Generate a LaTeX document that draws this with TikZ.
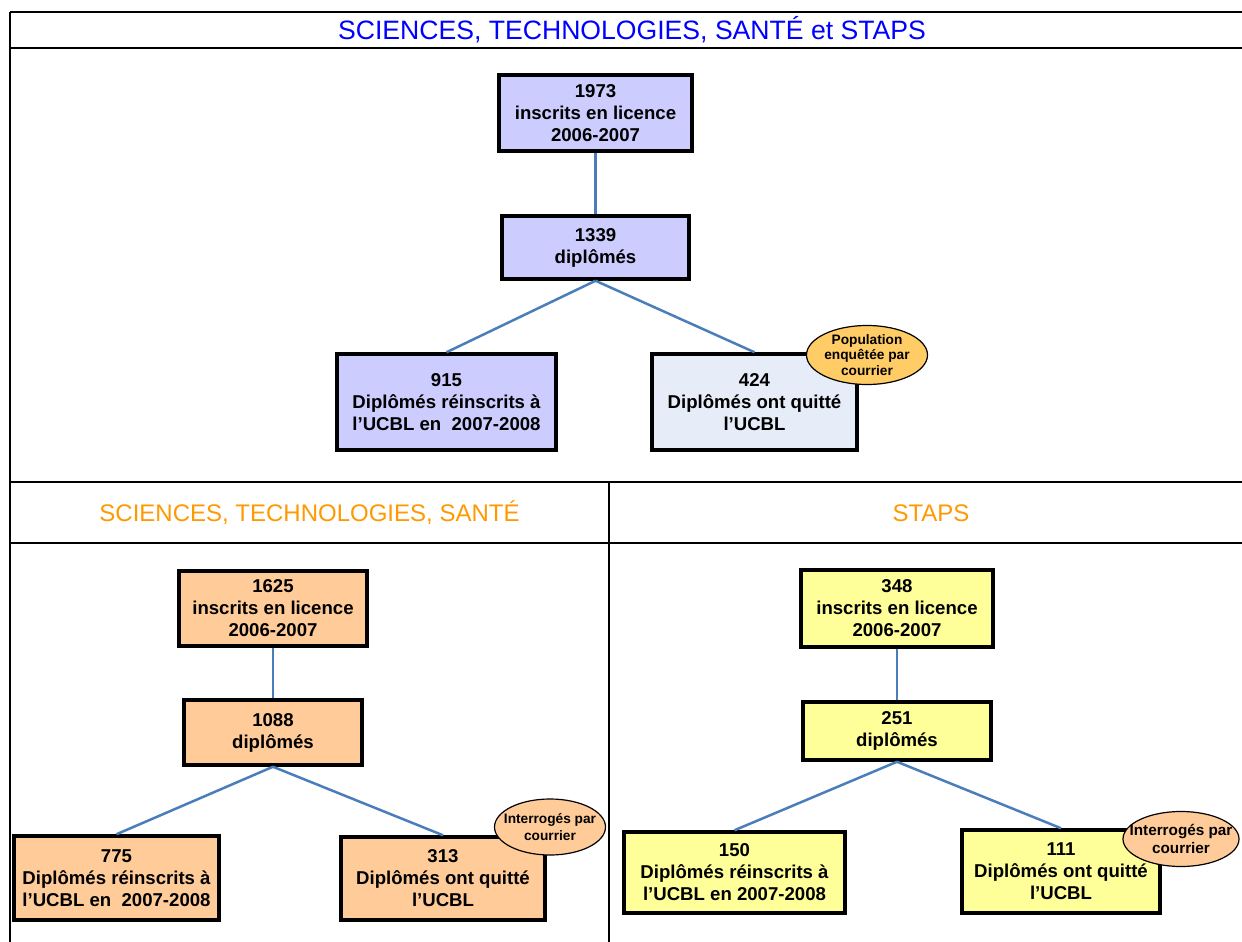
\documentclass[tikz,border=0pt]{standalone}
\usepackage{fontspec}
\setmainfont{Liberation Sans}
\usetikzlibrary{shapes.geometric}
\definecolor{lav}{HTML}{CCCCFF}
\definecolor{paleblue}{HTML}{E6ECF8}
\definecolor{peach}{HTML}{FFCC99}
\definecolor{lyellow}{HTML}{FFFF99}
\definecolor{gold}{HTML}{FFCC66}
\definecolor{connblue}{HTML}{4A7EBB}
\definecolor{ttlblue}{HTML}{0000FF}
\definecolor{ttlorange}{HTML}{FF9900}
\tikzset{
  box/.style={draw=black, line width=3.5pt, inner sep=0pt, align=center,
    font=\fontsize{18.6}{22}\selectfont\bfseries},
  conn/.style={draw=connblue, line width=2.5pt},
  bubble/.style={ellipse, draw=black, line width=1.2pt, inner sep=0pt},
  bubbletext/.style={inner sep=0pt, align=center},
  grid/.style={draw=black, line width=2pt},
  ttl/.style={inner sep=0pt, anchor=center}
}
\begin{document}
\begin{tikzpicture}[x=1pt,y=-1pt]
\useasboundingbox (0,0) rectangle (1242,942);
\fill[white] (0,0) rectangle (1242,942);
% table grid
\draw[grid] (10,12) -- (1242,12);
\draw[grid] (10,48) -- (1242,48);
\draw[grid] (10,482) -- (1242,482);
\draw[grid] (10,543) -- (1242,543);
\draw[grid] (10,12) -- (10,942);
\draw[grid] (609,482) -- (609,942);
% titles
\node[ttl, text=ttlblue, font=\fontsize{26.6}{30}\selectfont] (t1) at (632,30) {SCIENCES, TECHNOLOGIES, SANTÉ et STAPS};
\node[ttl, text=ttlorange, font=\fontsize{24}{28}\selectfont] (t2) at (309.5,513) {SCIENCES, TECHNOLOGIES, SANTÉ};
\node[ttl, text=ttlorange, font=\fontsize{24}{28}\selectfont] (t3) at (931,513) {STAPS};
% top panel
\node[box, fill=lav, minimum width=193pt, minimum height=76pt] (b1) at (595.5,113) {1973\\inscrits en licence\\2006-2007};
\node[box, fill=lav, minimum width=187pt, minimum height=63pt] (b2) at (595.5,247.5) {1339\\diplômés};
\node[box, fill=lav, minimum width=219pt, minimum height=96pt] (b3) at (446.5,402) {915\\Diplômés réinscrits à\\l’UCBL en\ \ 2007-2008};
\node[box, fill=paleblue, minimum width=205pt, minimum height=96pt] (b4) at (754.5,402) {424\\Diplômés ont quitté\\l’UCBL};
\draw[conn] (b1.south) -- (b2.north);
\draw[conn] (b2.south) -- (b3.north);
\draw[conn] (b2.south) -- (b4.north);
\node[bubble, fill=gold, minimum width=121pt, minimum height=59pt] (e1) at (867,355) {};
\node[bubbletext, font=\fontsize{13.7}{15.5}\selectfont\bfseries] (e1t) at (e1.center) {Population\\enquêtée par\\courrier};
% bottom left
\node[box, fill=peach, minimum width=188pt, minimum height=75pt] (c1) at (273,608.5) {1625\\inscrits en licence\\2006-2007};
\node[box, fill=peach, minimum width=178pt, minimum height=65pt] (c2) at (273,732.5) {1088\\diplômés};
\node[box, fill=peach, minimum width=205pt, minimum height=84pt] (c3) at (116.5,878) {775\\Diplômés réinscrits à\\l’UCBL en\ \ 2007-2008};
\node[box, fill=peach, minimum width=204pt, minimum height=83pt] (c4) at (443,878.5) {313\\Diplômés ont quitté\\l’UCBL};
\draw[conn] (c1.south) -- (c2.north);
\draw[conn] (c2.south) -- (c3.north);
\draw[conn] (c2.south) -- (c4.north);
\node[bubble, fill=peach, minimum width=111pt, minimum height=56pt] (e2) at (550,827) {};
\node[bubbletext, font=\fontsize{13.7}{17}\selectfont\bfseries] (e2t) at (e2.center) {Interrogés par\\courrier};
% bottom right
\node[box, fill=lyellow, minimum width=192pt, minimum height=77pt] (d1) at (897,608.5) {348\\inscrits en licence\\2006-2007};
\node[box, fill=lyellow, minimum width=188pt, minimum height=58pt] (d2) at (897,731) {251\\diplômés};
\node[box, fill=lyellow, minimum width=221pt, minimum height=81pt] (d3) at (734.5,872.5) {150\\Diplômés réinscrits à\\l’UCBL en 2007-2008};
\node[box, fill=lyellow, minimum width=198pt, minimum height=83pt] (d4) at (1061,871.5) {111\\Diplômés ont quitté\\l’UCBL};
\draw[conn] (d1.south) -- (d2.north);
\draw[conn] (d2.south) -- (d3.north);
\draw[conn] (d2.south) -- (d4.north);
\node[bubble, fill=peach, minimum width=116pt, minimum height=55pt] (e3) at (1181,839) {};
\node[bubbletext, font=\fontsize{15.3}{18}\selectfont\bfseries] (e3t) at (e3.center) {Interrogés par\\courrier};
\end{tikzpicture}
\end{document}
